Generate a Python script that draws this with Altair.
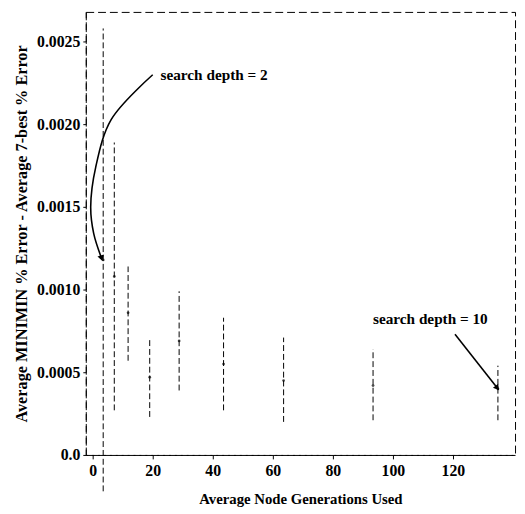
import altair as alt
import pandas as pd

# Error-bar data (search depth 2..10)
depths = [2, 3, 4, 5, 6, 7, 8, 9, 10]
nodes = [3.5, 7.2, 11.8, 19.0, 28.8, 43.6, 63.6, 93.4, 135.0]
means = [0.00118, 0.00108, 0.00086, 0.00047, 0.00069, 0.00055, 0.00045, 0.00042, 0.00040]
lows = [-0.00022, 0.00027, 0.00057, 0.00023, 0.00039, 0.00027, 0.00020, 0.00021, 0.00021]
highs = [0.00258, 0.00189, 0.00114, 0.00071, 0.00099, 0.00083, 0.00071, 0.00064, 0.00054]

x_ticks = [0, 20, 40, 60, 80, 100, 120]
y_ticks = [0.0, 0.0005, 0.0010, 0.0015, 0.0020, 0.0025]

# annotation arrows (data coordinates)
curve_x = [20.0, 6.2, 1.0, -0.66, 0.33, 2.95]
curve_y = [0.00230, 0.00203, 0.00174, 0.00150, 0.00134, 0.00119]
line_x = [120.7, 134.8]
line_y = [0.00073, 0.000405]

ann_text = ["search depth = 2", "search depth = 10"]
ann_x = [22.6, 112.5]
ann_y = [0.00230, 0.00082]
ann_align = ["left", "center"]

df = pd.DataFrame({"depth": depths, "nodes": nodes, "mean": means, "lo": lows, "hi": highs})
curve = pd.DataFrame({"x": curve_x, "y": curve_y, "o": list(range(len(curve_x)))})
sline = pd.DataFrame({"x": line_x, "y": line_y, "o": [0, 1]})
heads = pd.DataFrame({"x": [curve_x[-1], line_x[-1]], "y": [curve_y[-1], line_y[-1]], "ang": [342, 322]})
ann = pd.DataFrame({"t": ann_text, "x": ann_x, "y": ann_y, "a": ann_align})

FONT = "Liberation Serif"
xsc = alt.Scale(domain=[-2.3, 140.7], nice=False, zero=False)
ysc = alt.Scale(domain=[0, 0.00268], nice=False, zero=False)

xenc = alt.X("nodes:Q", scale=xsc,
             axis=alt.Axis(title="Average Node Generations Used", values=x_ticks,
                           grid=False, tickSize=4, labelPadding=4, titlePadding=13))
yenc = alt.Y("lo:Q", scale=ysc,
             axis=alt.Axis(title="Average MINIMIN % Error - Average 7-best % Error",
                           values=y_ticks, grid=False, tickSize=3, labelPadding=3,
                           labelExpr="datum.value == 0 ? '0.0' : format(datum.value, '.4f')",
                           titlePadding=7))

bars = alt.Chart(df).mark_rule(color="black", strokeWidth=1, strokeDash=[6, 3], clip=False).encode(
    x=xenc, y=yenc, y2="hi:Q")

pts = alt.Chart(df).mark_point(filled=True, color="black", size=8).encode(
    x=alt.X("nodes:Q", scale=xsc), y=alt.Y("mean:Q", scale=ysc))

arc = alt.Chart(curve).mark_line(color="black", strokeWidth=1.6, interpolate="catmull-rom").encode(
    x=alt.X("x:Q", scale=xsc), y=alt.Y("y:Q", scale=ysc), order="o:Q")

straight = alt.Chart(sline).mark_line(color="black", strokeWidth=1.6).encode(
    x=alt.X("x:Q", scale=xsc), y=alt.Y("y:Q", scale=ysc), order="o:Q")

head = alt.Chart(heads).mark_point(shape="triangle-down", filled=True, color="black", size=45, opacity=1).encode(
    x=alt.X("x:Q", scale=xsc), y=alt.Y("y:Q", scale=ysc), angle=alt.Angle("ang:Q", scale=None))

txt_l = alt.Chart(ann[ann.a == "left"]).mark_text(align="left", baseline="middle", font=FONT,
                                                  fontWeight="bold", fontSize=15.5, color="black").encode(
    x=alt.X("x:Q", scale=xsc), y=alt.Y("y:Q", scale=ysc), text="t:N")
txt_c = alt.Chart(ann[ann.a == "center"]).mark_text(align="center", baseline="middle", font=FONT,
                                                    fontWeight="bold", fontSize=15.5, color="black").encode(
    x=alt.X("x:Q", scale=xsc), y=alt.Y("y:Q", scale=ysc), text="t:N")

chart = alt.layer(bars, pts, arc, straight, head, txt_l, txt_c).properties(
    width=436, height=450,
    autosize=alt.AutoSizeParams(type="none"),
    padding={"left": 79, "top": 0, "right": 2, "bottom": 56},
).configure_view(
    stroke="black", strokeWidth=1, strokeDash=[8, 4]
).configure_axis(
    domainColor="black", domainDash=[8, 4], tickColor="black",
    labelFont=FONT, labelFontWeight="bold", labelFontSize=16, labelColor="black",
    titleFont=FONT, titleFontWeight="bold", titleColor="black",
).configure_axisX(titleFontSize=15).configure_axisY(titleFontSize=16.5)

chart.save("out.html", embed_options={"renderer": "svg", "actions": False})
